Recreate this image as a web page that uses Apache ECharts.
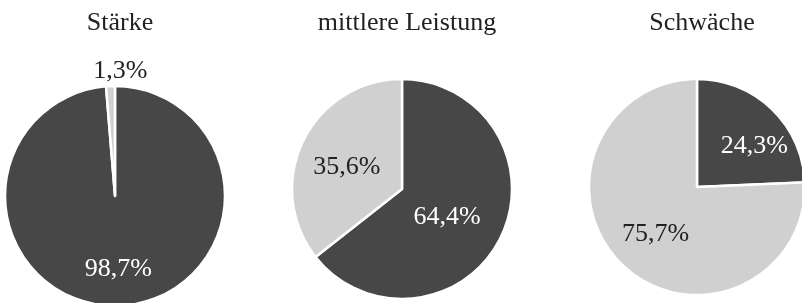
<!DOCTYPE html>
<html><head><meta charset="utf-8">
<script src="https://cdn.jsdelivr.net/npm/echarts@6/dist/echarts.min.js"></script>
<style>html,body{margin:0;padding:0;background:#fff}#c{width:802px;height:303px}</style>
</head><body><div id="c"></div>
<script>
const titles = ['Stärke', 'mittlere Leistung', 'Schwäche'];
const darkValues = [98.7, 64.4, 24.3];
const lightValues = [1.3, 35.6, 75.7];

const centers = [[115, 196], [402, 189], [697, 187]];
const radii = [110, 110, 108];
const DARK = '#474747', LIGHT = '#d0d0d0';
const FONT = '"Liberation Serif", "Times New Roman", serif';
// label nudges [seriesIndex][dataIndex] = [dx, dy]
const nudges = [[[1, 15], [42, -15]], [[-7, 3], [-3, 4]], [[18, 0], [-2, 6]]];

function fmt(v) { return v.toFixed(1).replace('.', ',') + '%'; }

const chart = echarts.init(document.getElementById('c'), null, {renderer: 'canvas'});
const series = titles.map((t, i) => ({
  type: 'pie',
  center: centers[i],
  radius: [0, radii[i]],
  startAngle: 90,
  clockwise: true,
  avoidLabelOverlap: false,
  silent: true,
  animation: false,
  itemStyle: {borderColor: '#fff', borderWidth: 2.5},
  labelLine: {show: false},
  labelLayout: p => ({dx: nudges[p.seriesIndex][p.dataIndex][0], dy: nudges[p.seriesIndex][p.dataIndex][1]}),
  data: [
    {value: darkValues[i], name: 'dark', itemStyle: {color: DARK},
     label: {show: true, position: 'inside', color: '#fff', fontSize: 26, fontFamily: FONT, formatter: p => fmt(p.value)}},
    {value: lightValues[i], name: 'light', itemStyle: {color: LIGHT},
     label: {show: true, position: lightValues[i] < 5 ? 'outside' : 'inside', color: '#222', fontSize: 26, fontFamily: FONT, formatter: p => fmt(p.value)},
     labelLine: {show: false, length: 0, length2: 0}}
  ]
}));

chart.setOption({
  backgroundColor: '#fff',
  title: titles.map((t, i) => ({
    text: t, left: centers[i][0], top: 5, textAlign: 'center',
    textStyle: {fontFamily: FONT, fontSize: 26, fontWeight: 'normal', color: '#222'}
  })),
  series: series
});
</script></body></html>
